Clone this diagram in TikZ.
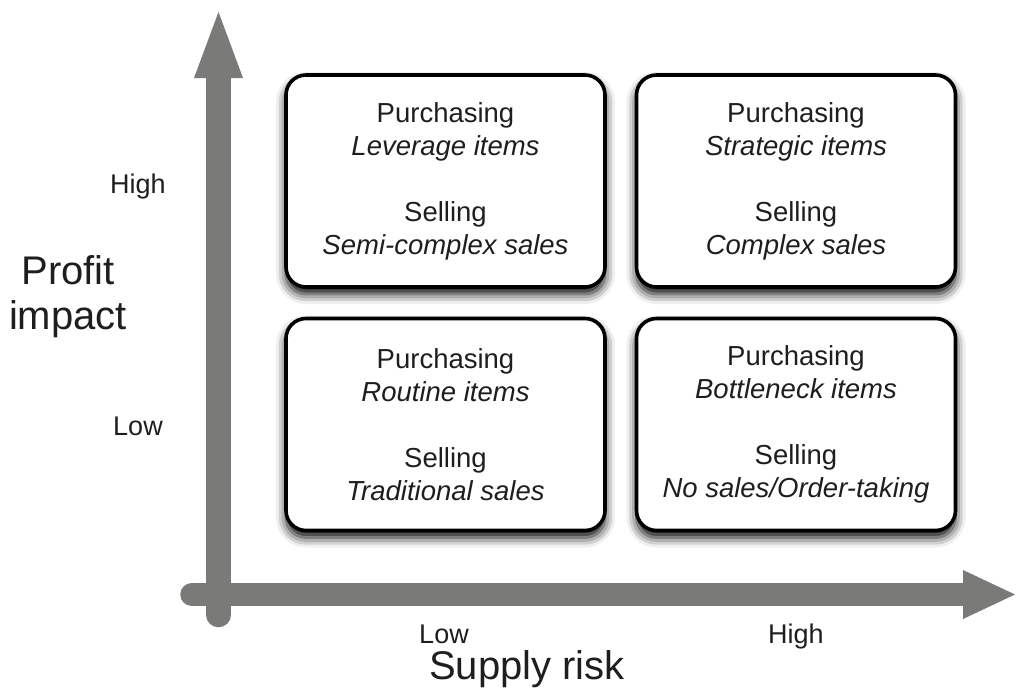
\documentclass[tikz,border=0pt]{standalone}
\usepackage{fontspec}
\setmainfont{Liberation Sans}
\usetikzlibrary{shadows.blur}
\definecolor{axisgray}{RGB}{122,122,120}
\definecolor{txt}{RGB}{30,30,30}
\begin{document}
\begin{tikzpicture}[x=1pt,y=-1pt,
  quad/.style={draw=black, line width=3.6pt, fill=white, rounded corners=20pt,
    minimum width=319pt, minimum height=212pt, align=center, text=txt,
    font=\fontsize{27.5}{33}\selectfont,
    blur shadow={shadow xshift=0pt, shadow yshift=-7pt, shadow blur radius=10pt, shadow opacity=100}},
  lab/.style={text=txt, font=\fontsize{27}{33}\selectfont, anchor=base, inner sep=1pt},
  ttl/.style={text=txt, font=\fontsize{40}{45}\selectfont, align=center, inner sep=1pt}]
\useasboundingbox (0,0) rectangle (1016,688);
% axes
\draw[axisgray, line width=24.5pt, line cap=round] (218.5,615) -- (218.5,76);
\fill[axisgray] (194,78) -- (243,78) -- (218.5,12) -- cycle;
\draw[axisgray, line width=23.5pt, line cap=round] (192,594.5) -- (965,594.5);
\fill[axisgray] (963,570) -- (963,619) -- (1015,594.5) -- cycle;
% boxes
\node[quad] (lev) at (445.5,181) {Purchasing\\ \textit{Leverage items}\\[33pt] Selling\\ \textit{Semi-complex sales}};
\node[quad] (str) at (796,181) {Purchasing\\ \textit{Strategic items}\\[33pt] Selling\\ \textit{Complex sales}};
\node[quad] (rou) at (445.5,424.5) {Purchasing\\ \textit{Routine items}\\[33pt] Selling\\ \textit{Traditional sales}};
\node[quad] (bot) at (796,424.5) {Purchasing\\ \textit{Bottleneck items}\\[33pt] Selling\\ \textit{No sales/Order-taking}};
% labels
\node[lab] (yhigh) at (138,193) {High};
\node[lab] (ylow) at (138,435) {Low};
\node[ttl] (ytitle) at (68,297) {Profit\\impact};
\node[lab] (xlow) at (444,643) {Low};
\node[lab] (xhigh) at (796,643) {High};
\node[ttl, anchor=base] (xtitle) at (527,679) {Supply risk};
\end{tikzpicture}
\end{document}
